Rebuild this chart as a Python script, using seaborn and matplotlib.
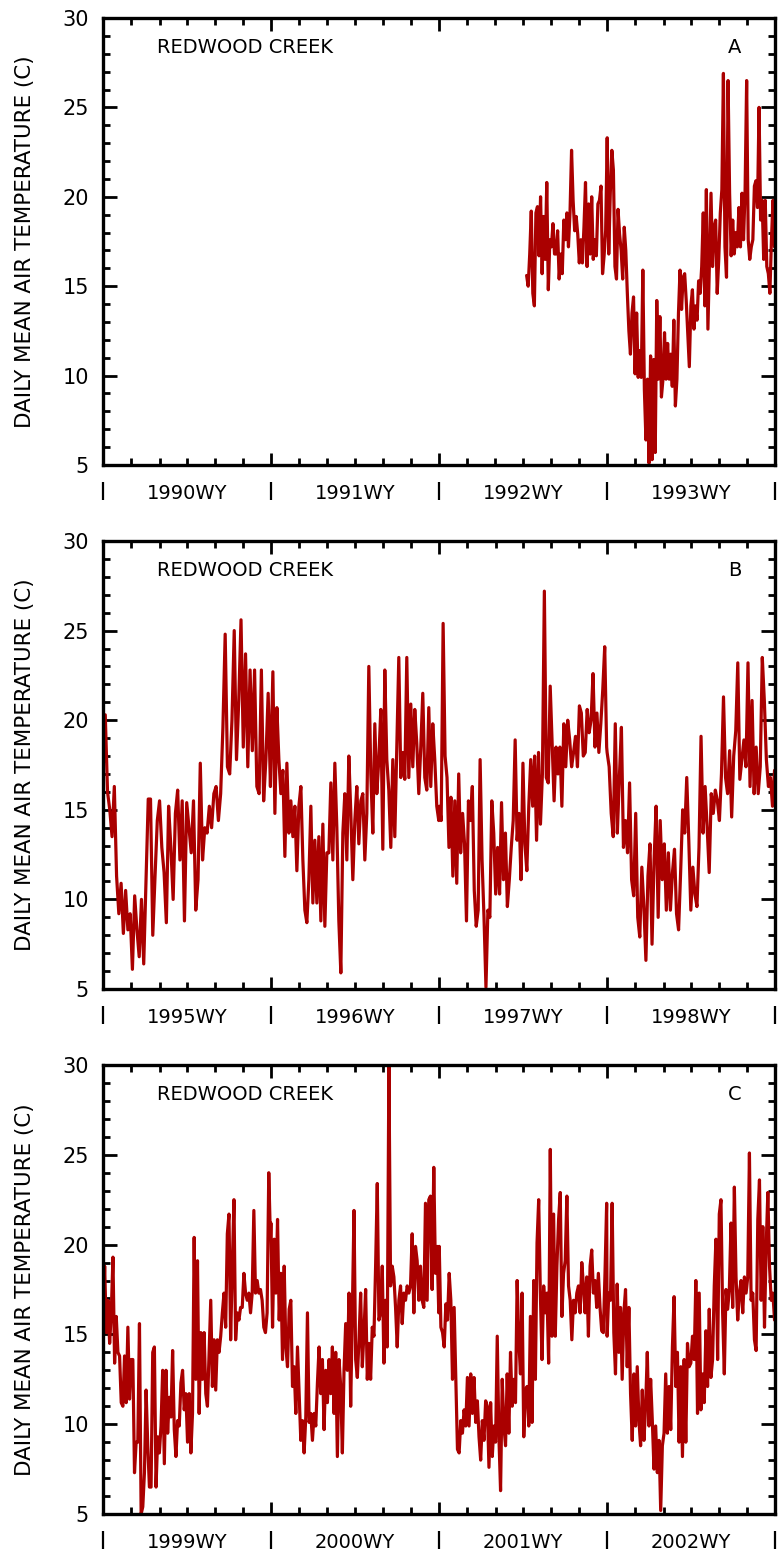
import numpy as np
import pandas as pd
import matplotlib
matplotlib.use("Agg")
import matplotlib.pyplot as plt
import matplotlib.dates as mdates
from matplotlib.ticker import MultipleLocator, FixedLocator, FixedFormatter, NullFormatter
import seaborn as sns

# ---------------- data ----------------
site_name = "REDWOOD CREEK"
y_label = "DAILY MEAN AIR TEMPERATURE (C)"
panel_letters = ["A", "B", "C"]
panel_water_years = [[1990, 1991, 1992, 1993],
                     [1995, 1996, 1997, 1998],
                     [1999, 2000, 2001, 2002]]
year_labels = [["1990WY", "1991WY", "1992WY", "1993WY"],
               ["1995WY", "1996WY", "1997WY", "1998WY"],
               ["1999WY", "2000WY", "2001WY", "2002WY"]]

# Panel A: record begins in spring 1992
temp_a_start = "1992-04-09"
temp_a_end = "1993-09-30"
temp_a = [15.6, 15, 16.8, 19.2, 14.6, 13.9, 19.1, 19.45, 16.7, 20, 15.7, 18.9, 16.5, 20.8, 14.8,
          17.6, 17.2, 18.5, 16.8, 16.8, 18.1, 15.4, 16.8, 15.7, 18.7, 17.6, 19.1, 17.2, 19.1, 22.6,
          19.8, 18.1, 18.9, 17.9, 16.3, 17.6, 16.3, 18.3, 20.8, 16.1, 19.6, 16.8, 20, 16.5, 17.6,
          16.7, 19.6, 19.8, 20.6, 15.7, 16.7, 18.1, 23.3, 16.8, 20.2, 22.6, 21.5, 16.1, 15.4, 19.3,
          17.9, 17, 15.4, 18.3, 17, 14.6, 12.5, 11.2, 13.5, 14.4, 10.1, 13.5, 9.9, 11.4, 9.9,
          15.9, 9.2, 6.4, 9.8, 5.1, 11.1, 5.3, 10.9, 5.7, 14.2, 9.8, 13.3, 8.8, 9.8, 12.4,
          9.8, 11.8, 9.8, 11.2, 9.4, 13.1, 8.3, 9.8, 13.5, 15.9, 13.7, 15.5, 15.7, 14.2, 12.4,
          10.5, 13.9, 14.8, 12.6, 13.9, 13.1, 15.3, 14.6, 16.1, 19.1, 13.9, 20.4, 12.6, 16.5, 20.2,
          16.1, 18.3, 18.7, 14.6, 16.5, 19.1, 20.4, 26.9, 17.2, 15.5, 26.5, 20.2, 16.7, 18.7, 16.8,
          18, 17.2, 19.4, 17.2, 20.2, 17.6, 20.4, 26.5, 17.6, 16.5, 17.2, 17.6, 20.6, 20.9, 19.4,
          25, 18.7, 19.8, 16.5, 19.8, 16.1, 15.7, 14.6, 17.6, 19.8, 17.2]

# Panel B
temp_b_1995 = [17, 20.3, 16, 15, 13.5, 16.3, 11.3, 9.2, 10.9, 8.1, 10.5, 8.3, 9.2, 6.1, 10.2, 8.3,
               6.8, 10, 6.4, 11, 15.6, 15.6, 8, 11.3, 14.4, 15.5, 12.9, 11.5, 8.7, 15.2, 12.9, 10,
               14.8, 16.1, 12.2, 15.5, 8.8, 15.4, 14, 12.6, 15.5, 9.4, 11.1, 17.6, 12.2, 14, 13.7,
               15.2, 14, 15.9, 16.3, 14.4, 15.9, 19.6, 24.8, 17.4, 17, 20, 25, 17.8, 21.1, 25.6,
               18.5, 23.7, 17.4, 22.8, 18.3, 22.8, 16.3, 15.9, 22.8, 15.5, 17.8, 21.5, 16.3]
temp_b_1996 = [17.8, 22.7, 14.8, 20.7, 17.8, 15.9, 17.2, 12.4, 17.6, 13.7, 15.5, 13.5, 15.2, 11.6,
               15.2, 16.3, 12.2, 9.4, 8.7, 11.1, 15.2, 9.8, 13.3, 9.8, 13.5, 8.8, 14.2, 8.5, 12.6,
               12.6, 16.5, 12.2, 17.6, 14, 8.8, 5.9, 13.7, 15.9, 12.2, 18, 14.8, 11.1, 14.4, 16.3,
               13.1, 15.5, 15.9, 12.2, 14.8, 23, 17, 13.7, 19.8, 15.9, 17.8, 20.6, 12.8, 22.8, 17.8,
               16.1, 12.9, 17.8, 13.5, 18.5, 23.5, 16.8, 18.2, 16.7, 23.5, 16.8, 20.9, 17.4, 20.6,
               18.7, 15.9, 18.5, 21.5, 16.8, 16.1, 20.7, 16.3, 19.8, 17.8, 15.2, 14.4]
temp_b_1997 = [15.2, 14.4, 25.4, 18, 16.8, 12.9, 15.7, 11.3, 15.5, 10.9, 17, 12.6, 14.8, 13.1, 8.8,
               15.5, 14.4, 16.3, 10.5, 8.5, 9.4, 17.8, 12.2, 9, 5.1, 9.4, 9, 15.5, 13.7, 10.3, 12.9,
               10.3, 15.4, 11.1, 13.7, 9.6, 11.1, 12.9, 14.4, 18.9, 13.3, 14.8, 11.1, 17.6, 13.1,
               11.6, 15.2, 17.8, 15.2, 18, 13.3, 18.2, 14.2, 17, 27.2, 16.8, 16.5, 21.9, 18.7, 15.5,
               18.5, 17, 18.5, 15.2, 19.8, 17.4, 20, 18.9, 17.4, 18.2, 19.1, 17.4, 20.8, 20.4, 18,
               18.2, 20.6, 19.3, 20, 22.6, 18.5, 20.4, 18.2, 19.8, 21.7, 24.1, 18.5]
temp_b_1998 = [18.2, 17.4, 14.8, 13.5, 19.8, 13.7, 16.8, 19.6, 12.9, 14.4, 12.6, 16.5, 11.1, 10.2,
               14.8, 9, 7.9, 11.8, 9.6, 6.6, 11.3, 13.1, 7.5, 12.2, 15.2, 9, 14.4, 11.1, 13.1, 9.4,
               12.6, 9.4, 11.5, 12.8, 9.2, 8.3, 11.5, 15, 13.7, 16.8, 13.3, 9.4, 11.8, 10.3, 9.6,
               12.9, 19.1, 13.7, 16.3, 14, 11.5, 15.9, 14.8, 16.1, 15.5, 14.4, 17, 21.3, 16.8, 15.9,
               18.3, 14.6, 18, 19.4, 23.2, 16.7, 17.8, 18.9, 17.4, 23.2, 16.3, 21.1, 15.9, 18.5,
               15.9, 17.4, 23.5, 21.1, 17.8, 16.3, 16.8, 15.2, 17.2]

# Panel C
temp_c_1999 = [15.6, 18.8, 15.1, 16.9, 14.5, 16.2, 19.3, 13.4, 16, 14, 13.8, 11.2, 11, 13.8, 11.2,
               15.4, 11.4, 13.6, 13.6, 7.3, 9, 9, 15.6, 5, 5.4, 7.3, 11.9, 8.8, 6.5, 6.5, 14, 14.3,
               6.5, 9.3, 8.4, 9.9, 13, 7.8, 13, 9.5, 11.5, 10.4, 14.1, 9.7, 8.2, 10.2, 9.9, 12.3,
               13, 10.8, 11.7, 9, 11.7, 8.4, 10.6, 20.4, 12.5, 19.1, 10.6, 15.1, 12.5, 15.1, 11.7,
               11, 14, 16.9, 12.1, 14.7, 11.9, 14.7, 14, 14.9, 16.2, 17.3, 15.4, 20.6, 21.7, 14.7,
               18.8, 22.5, 14.7, 16.2, 15.8, 16.5, 16.5, 18.4, 17.3, 16.9, 17.3, 16.2, 17.3, 21.9,
               17.3, 18, 17.3, 17.5, 16.9, 15.4, 15.1, 16.2, 24, 20.3]
temp_c_2000 = [21.2, 15.4, 20.3, 17.3, 21.4, 15.8, 18.4, 13.6, 18.8, 14.3, 13.2, 16.4, 16.9, 12.1,
               13.2, 10.6, 14.3, 11.7, 9.1, 10.2, 8.4, 10.4, 16.2, 10.1, 10.6, 9.1, 10.6, 9.9, 12.3,
               14.3, 11.7, 13.6, 9.7, 13, 11.2, 13.6, 11.7, 14.3, 10.6, 14, 8.2, 13.6, 12.1, 8.4, 13,
               15.6, 13, 17.3, 11, 16.2, 21.9, 13.6, 12.6, 14.7, 17.3, 13.2, 15.1, 17.5, 12.5, 14.5,
               12.5, 15.4, 14.9, 18.8, 23.4, 15.8, 16.2, 18.8, 13.4, 16.9, 14.3, 30, 17.7, 18.8,
               18.2, 16.5, 14.3, 16.9, 17.7, 15.6, 17.3, 16.9, 17.7, 17.3, 17.7, 20.6, 16.2, 19.9,
               19.1, 16.9, 18.8, 16.9, 16.5, 22.3, 16.9, 22.5, 22.7, 17.5, 24.3, 18.4, 19.9, 16.2]
temp_c_2001 = [19.9, 15.4, 15.1, 14.3, 16.7, 15.8, 18.4, 16.9, 12.5, 16.5, 12.5, 8.6, 8.4, 10.2, 9.5,
               10.8, 9.9, 12.6, 9.9, 12.8, 10.6, 12.6, 10.1, 11.3, 9.3, 8, 10.2, 9.1, 11.3, 11, 7.6,
               11.2, 8.2, 9.9, 9, 14.9, 9.3, 6.3, 12.5, 9.9, 8.8, 12.8, 9.5, 14, 11, 12.5, 11.2, 18,
               14.7, 12.8, 17.3, 9.3, 11.9, 12.1, 9.9, 16, 10.1, 18, 12.5, 20.1, 22.5, 17.3, 13.6,
               17.7, 16.2, 17.3, 13.4, 25.3, 14.9, 21.7, 14.9, 18.8, 21.4, 22.9, 16, 18.4, 19.1,
               22.7, 17.7, 16.9, 14.7, 16.9, 16.2, 17.3, 17.7, 16.2, 19, 17.7, 16.2, 18.2, 14.9,
               18.8, 19.7, 17.3, 18, 16.5, 18.4, 16.5, 15.2, 15.1, 18.4, 22.3]
temp_c_2002 = [14.9, 17.3, 16.9, 22.3, 15.1, 12.8, 17.8, 14, 16.5, 12.5, 16.2, 17.5, 13.2, 16.5, 11.7,
               9.1, 12.8, 9.9, 13.2, 10.2, 8.8, 11.9, 9.1, 11, 14, 9.9, 12.5, 10.2, 7.5, 9.9, 7.3,
               9.1, 5.2, 8.8, 9.5, 12.8, 9.5, 12.1, 9.7, 14.3, 17.1, 12.1, 14, 9, 13.2, 8.2, 13.6, 9,
               14.5, 13.2, 13.4, 14.9, 13.6, 18, 10.6, 17.3, 10.8, 12.8, 11.2, 15.2, 12.1, 16.4,
               12.6, 13.6, 17.7, 20.3, 13.6, 21.7, 22.5, 16.2, 12.8, 17.5, 16.4, 17.5, 21.2, 16.5,
               23.2, 18.2, 15.8, 17.3, 18, 16.2, 18.2, 17.3, 18.2, 25.1, 16.9, 17.3, 14.7, 14.1,
               21.4, 23.6, 16.9, 21, 15.4, 19.9, 22.9, 18.8, 16.9, 17.3, 15.8]


def year_frame(water_year, values):
    dates = pd.date_range(f"{water_year - 1}-10-01", f"{water_year}-09-30", periods=len(values))
    return pd.DataFrame({"date": dates, "temp": values})


df_a = pd.DataFrame({"date": pd.date_range(temp_a_start, temp_a_end, periods=len(temp_a)),
                     "temp": temp_a})
df_b = pd.concat([year_frame(1995, temp_b_1995), year_frame(1996, temp_b_1996),
                  year_frame(1997, temp_b_1997), year_frame(1998, temp_b_1998)], ignore_index=True)
df_c = pd.concat([year_frame(1999, temp_c_1999), year_frame(2000, temp_c_2000),
                  year_frame(2001, temp_c_2001), year_frame(2002, temp_c_2002)], ignore_index=True)
frames = [df_a, df_b, df_c]

# ---------------- style ----------------
sns.set_style("ticks")
plt.rcParams["font.family"] = ["DejaVu Sans"]
plt.rcParams.update({"text.color": "black", "axes.labelcolor": "black",
                     "axes.edgecolor": "black", "xtick.color": "black",
                     "ytick.color": "black"})
line_color = "#aa0000"

fig = plt.figure(figsize=(7.79, 15.57), dpi=100)
left, width = 103 / 779, 672 / 779
panel_px = [(18, 465), (541, 989), (1065, 1514)]

for i, (df, wys, labels, letter) in enumerate(zip(frames, panel_water_years, year_labels, panel_letters)):
    top_px, bot_px = panel_px[i]
    ax = fig.add_axes([left, 1 - bot_px / 1557, width, (bot_px - top_px) / 1557])
    sns.lineplot(data=df, x="date", y="temp", ax=ax, color=line_color, linewidth=2.3,
                 estimator=None, sort=False, legend=False)

    x0 = pd.Timestamp(f"{wys[0] - 1}-10-01")
    x1 = pd.Timestamp(f"{wys[-1]}-10-01")
    ax.set_xlim(x0, x1)
    ax.set_ylim(5, 30)
    ax.set_xlabel("")
    ax.set_ylabel(y_label, fontsize=15.4, va="center")
    ax.yaxis.set_label_coords(-0.116, 0.5)

    ax.xaxis.set_major_locator(mdates.MonthLocator(bymonth=10, bymonthday=1))
    ax.xaxis.set_minor_locator(mdates.MonthLocator(bymonth=[12, 2, 4, 6, 8]))
    ax.xaxis.set_major_formatter(NullFormatter())
    ax.yaxis.set_major_locator(MultipleLocator(5))
    ax.yaxis.set_minor_locator(MultipleLocator(1))

    ax.tick_params(axis="x", which="both", direction="in", top=True, bottom=True,
                   labelbottom=False, width=2)
    ax.tick_params(axis="x", which="major", length=9)
    ax.tick_params(axis="x", which="minor", length=5)
    ax.tick_params(axis="y", which="both", direction="in", left=True, right=True, width=2)
    ax.tick_params(axis="y", which="major", length=10, labelsize=15, pad=10)
    ax.tick_params(axis="y", which="minor", length=5)
    for sp in ax.spines.values():
        sp.set_linewidth(2.4)
        sp.set_visible(True)

    ax.text(0.080, 0.935, site_name, transform=ax.transAxes, fontsize=14,
            ha="left", va="center")
    ax.text(0.940, 0.935, letter, transform=ax.transAxes, fontsize=14,
            ha="center", va="center")

    # water-year labels row below the axis
    bounds = [mdates.date2num(pd.Timestamp(f"{wy - 1}-10-01")) for wy in wys] + \
             [mdates.date2num(x1)]
    mids = [(a + b) / 2 for a, b in zip(bounds[:-1], bounds[1:])]
    sec = ax.secondary_xaxis(-0.038)
    sec.spines["bottom"].set_visible(False)
    sec.xaxis.set_major_locator(FixedLocator(bounds))
    sec.xaxis.set_major_formatter(NullFormatter())
    sec.xaxis.set_minor_locator(FixedLocator(mids))
    sec.xaxis.set_minor_formatter(FixedFormatter(labels))
    sec.tick_params(which="major", direction="out", length=13, width=1.6)
    sec.tick_params(which="minor", length=0, pad=1.5, labelsize=14)

fig.savefig("out.png", dpi=100)
